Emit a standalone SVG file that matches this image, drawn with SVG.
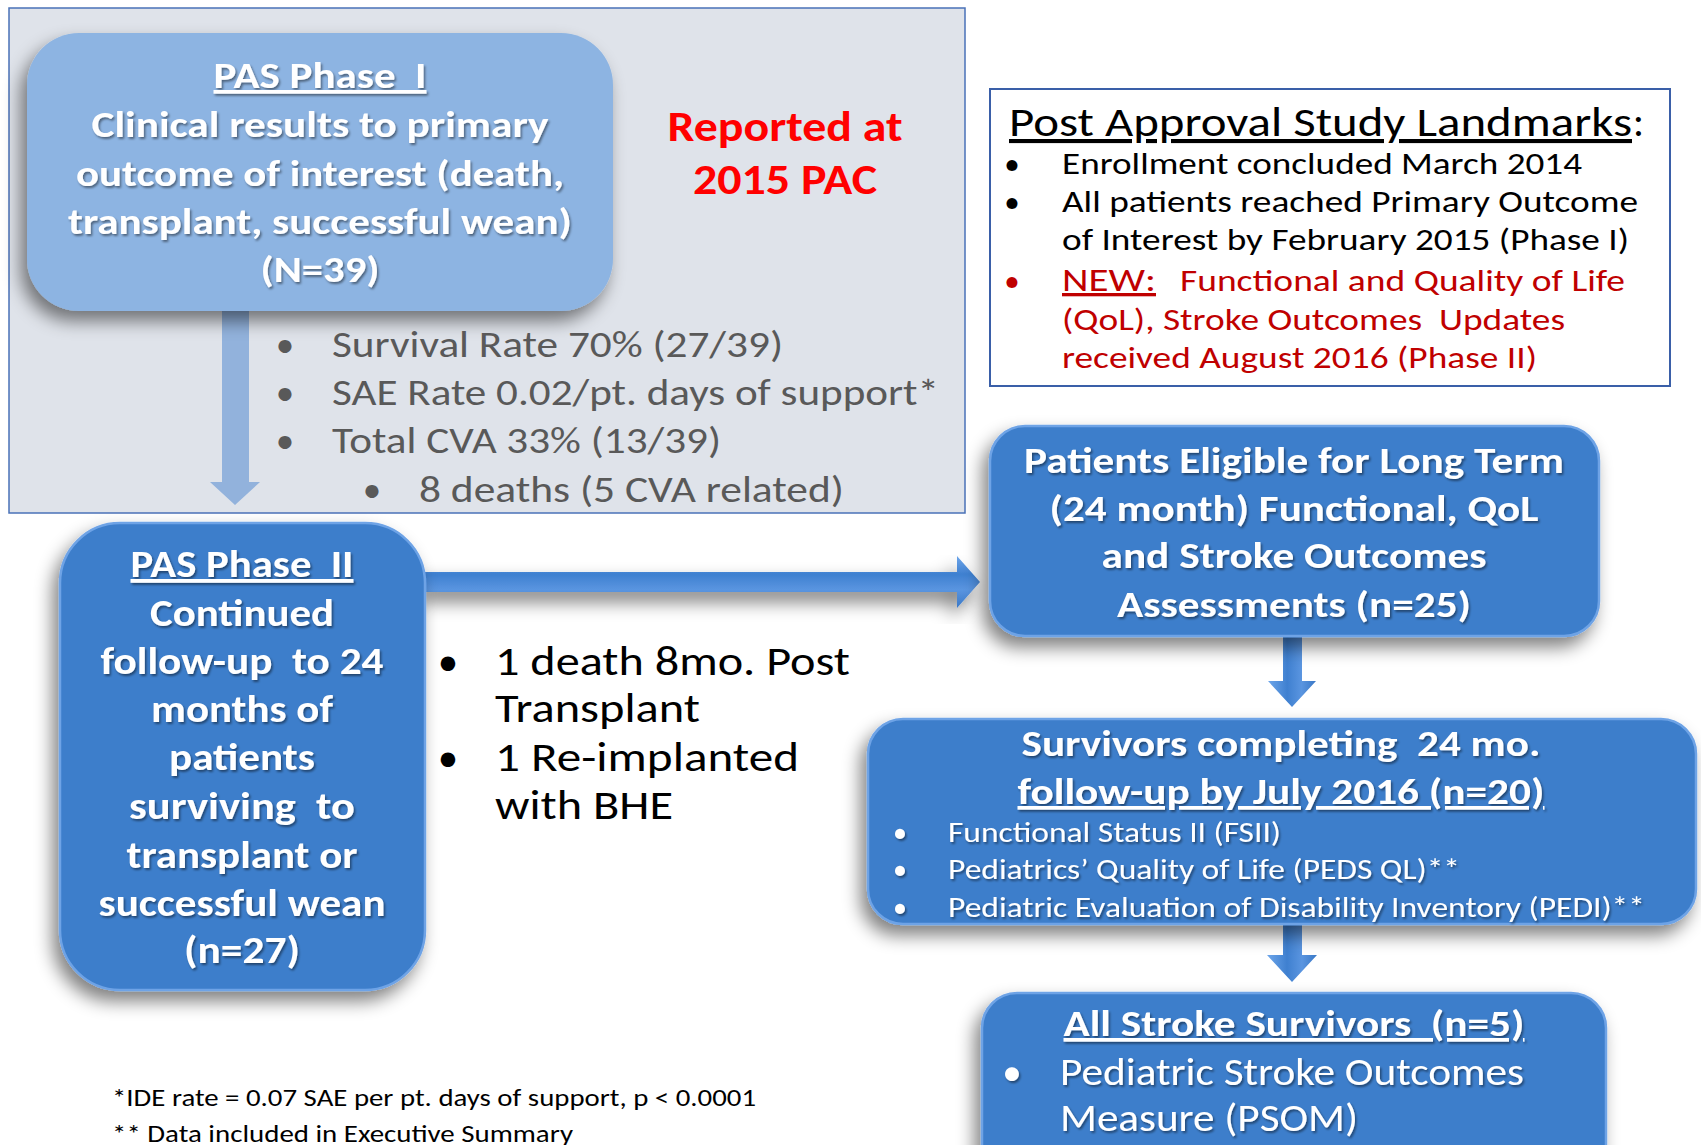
<svg xmlns="http://www.w3.org/2000/svg" width="1701" height="1145" viewBox="0 0 1701 1145">
  <style>
    text { font-family: Carlito, Lato, "Liberation Sans", sans-serif; }
    .wt { fill: #ffffff; font-weight: bold; text-anchor: middle; filter: url(#txtShadow); }
    .grey { fill: #595959; font-size: 37px; }
    .blk { fill: #000000; }
    .red { fill: #c00000; }
    .wb { fill: #ffffff; filter: url(#txtShadow); }
    .mid { text-anchor: middle; }
    .ul { text-decoration: underline; }
    .blue { fill: #3d7ecb; stroke: #6ea3e6; stroke-width: 2.5; filter: url(#boxShadow); }
  </style>
  <defs>
    <filter id="boxShadow" x="-20%" y="-20%" width="140%" height="150%">
      <feGaussianBlur in="SourceAlpha" stdDeviation="9"/>
      <feOffset dx="-6" dy="10" result="b"/>
      <feComponentTransfer><feFuncA type="linear" slope="0.5"/></feComponentTransfer>
      <feMerge><feMergeNode/><feMergeNode in="SourceGraphic"/></feMerge>
    </filter>
    <filter id="txtShadow" x="-5%" y="-20%" width="110%" height="150%">
      <feDropShadow dx="1.5" dy="2" stdDeviation="1" flood-color="#000000" flood-opacity="0.45"/>
    </filter>
    <linearGradient id="arrowH" x1="0" y1="0" x2="0" y2="1">
      <stop offset="0" stop-color="#6ea6ea"/>
      <stop offset="0.35" stop-color="#3f80d0"/>
      <stop offset="0.65" stop-color="#5a95e0"/>
      <stop offset="1" stop-color="#3a78c6"/>
    </linearGradient>
    <linearGradient id="arrowV" x1="0" y1="0" x2="1" y2="0">
      <stop offset="0" stop-color="#6ea6ea"/>
      <stop offset="0.4" stop-color="#3f80d0"/>
      <stop offset="0.7" stop-color="#5a95e0"/>
      <stop offset="1" stop-color="#3a78c6"/>
    </linearGradient>
  </defs>

  <rect width="1701" height="1145" fill="#ffffff"/>

  <!-- Phase I panel background -->
  <g id="phase1-panel">
    <rect x="9" y="8" width="956" height="505" fill="#dfe3ea" stroke="#4a72b8" stroke-width="1.5"/>
  </g>

  <!-- Connectors -->
  <g id="connectors">
    <polygon points="222,311 249,311 249,482 260,482 235,505 210,482 222,482" fill="#92b2dc"/>
    <polygon points="425,572 957,572 957,556 980,582 957,608 957,592 425,592" fill="url(#arrowH)" filter="url(#boxShadow)"/>
    <polygon points="1283,636 1302,636 1302,681 1316,681 1292,707 1268,681 1283,681" fill="url(#arrowV)"/>
    <polygon points="1283,924 1302,924 1302,955 1317,955 1292,982 1267,955 1283,955" fill="url(#arrowV)"/>
  </g>

  <!-- PAS Phase I -->
  <g id="phase1">
    <rect x="27" y="33" width="586" height="278" rx="52" fill="#8db4e2" filter="url(#boxShadow)"/>
    <g font-size="37">
      <text class="wt ul" x="320" y="88" textLength="213" lengthAdjust="spacingAndGlyphs" xml:space="preserve">PAS Phase  I</text>
      <text class="wt" x="320" y="137" textLength="457" lengthAdjust="spacingAndGlyphs">Clinical results to primary</text>
      <text class="wt" x="320" y="186" textLength="488" lengthAdjust="spacingAndGlyphs">outcome of interest (death,</text>
      <text class="wt" x="320" y="234" textLength="504" lengthAdjust="spacingAndGlyphs">transplant, successful wean)</text>
      <text class="wt" x="320" y="282" textLength="119" lengthAdjust="spacingAndGlyphs">(N=39)</text>
    </g>
  </g>

  <g id="reported" font-size="43" font-weight="bold" fill="#ff0000">
    <text class="mid" x="785" y="141" textLength="235" lengthAdjust="spacingAndGlyphs">Reported at</text>
    <text class="mid" x="785" y="194" textLength="184" lengthAdjust="spacingAndGlyphs">2015 PAC</text>
  </g>

  <g id="phase1-results">
    <text class="grey mid" x="285" y="357">•</text>
    <text class="grey" x="332" y="357" textLength="451" lengthAdjust="spacingAndGlyphs">Survival Rate 70% (27/39)</text>
    <text class="grey mid" x="285" y="405">•</text>
    <text class="grey" x="332" y="405" textLength="607" lengthAdjust="spacingAndGlyphs">SAE Rate 0.02/pt. days of support*</text>
    <text class="grey mid" x="285" y="453">•</text>
    <text class="grey" x="332" y="453" textLength="389" lengthAdjust="spacingAndGlyphs">Total CVA 33% (13/39)</text>
    <text class="grey mid" x="372" y="502">•</text>
    <text class="grey" x="419" y="502" textLength="425" lengthAdjust="spacingAndGlyphs">8 deaths (5 CVA related)</text>
  </g>

  <!-- Landmarks box -->
  <g id="landmarks">
    <rect x="990" y="89" width="680" height="297" fill="#ffffff" stroke="#3a5fa8" stroke-width="2"/>
    <text class="blk ul" x="1009" y="136" font-size="41" textLength="623" lengthAdjust="spacingAndGlyphs">Post Approval Study Landmarks</text>
    <text class="blk" x="1633" y="136" font-size="41">:</text>
    <g font-size="31">
      <text class="blk mid" x="1012" y="174">•</text>
      <text class="blk" x="1062" y="174" textLength="520" lengthAdjust="spacingAndGlyphs">Enrollment concluded March 2014</text>
      <text class="blk mid" x="1012" y="212">•</text>
      <text class="blk" x="1062" y="212" textLength="576" lengthAdjust="spacingAndGlyphs">All patients reached Primary Outcome</text>
      <text class="blk" x="1062" y="250" textLength="567" lengthAdjust="spacingAndGlyphs">of Interest by February 2015 (Phase I)</text>
      <text class="red mid" x="1012" y="291">•</text>
      <text class="red ul" x="1062" y="291" font-size="33" textLength="94" lengthAdjust="spacingAndGlyphs">NEW:</text>
      <text class="red" x="1180" y="291" textLength="445" lengthAdjust="spacingAndGlyphs">Functional and Quality of Life</text>
      <text class="red" x="1062" y="330" textLength="503" lengthAdjust="spacingAndGlyphs" xml:space="preserve">(QoL), Stroke Outcomes  Updates</text>
      <text class="red" x="1062" y="368" textLength="475" lengthAdjust="spacingAndGlyphs">received August 2016 (Phase II)</text>
    </g>
  </g>

  <!-- PAS Phase II -->
  <g id="phase2">
    <rect class="blue" x="60" y="523" width="365" height="467" rx="60"/>
    <g font-size="38">
      <text class="wt ul" x="242" y="577" textLength="223" lengthAdjust="spacingAndGlyphs" xml:space="preserve">PAS Phase  II</text>
      <text class="wt" x="242" y="626" textLength="184" lengthAdjust="spacingAndGlyphs">Continued</text>
      <text class="wt" x="242" y="674" textLength="283" lengthAdjust="spacingAndGlyphs" xml:space="preserve">follow-up  to 24</text>
      <text class="wt" x="242" y="722" textLength="182" lengthAdjust="spacingAndGlyphs">months of</text>
      <text class="wt" x="242" y="770" textLength="146" lengthAdjust="spacingAndGlyphs">patients</text>
      <text class="wt" x="242" y="819" textLength="226" lengthAdjust="spacingAndGlyphs" xml:space="preserve">surviving  to</text>
      <text class="wt" x="242" y="868" textLength="231" lengthAdjust="spacingAndGlyphs">transplant or</text>
      <text class="wt" x="242" y="916" textLength="287" lengthAdjust="spacingAndGlyphs">successful wean</text>
      <text class="wt" x="242" y="963" textLength="116" lengthAdjust="spacingAndGlyphs">(n=27)</text>
    </g>
  </g>

  <g id="phase2-notes" font-size="41">
    <text class="blk mid" x="448" y="675">•</text>
    <text class="blk" x="495" y="675" textLength="355" lengthAdjust="spacingAndGlyphs">1 death 8mo. Post</text>
    <text class="blk" x="495" y="722" textLength="205" lengthAdjust="spacingAndGlyphs">Transplant</text>
    <text class="blk mid" x="448" y="771">•</text>
    <text class="blk" x="495" y="771" textLength="304" lengthAdjust="spacingAndGlyphs">1 Re-implanted</text>
    <text class="blk" x="495" y="819" textLength="178" lengthAdjust="spacingAndGlyphs">with BHE</text>
  </g>

  <!-- Eligible patients -->
  <g id="eligible">
    <rect class="blue" x="990" y="426" width="609" height="210" rx="35"/>
    <g font-size="37">
      <text class="wt" x="1294" y="473" textLength="540" lengthAdjust="spacingAndGlyphs">Patients Eligible for Long Term</text>
      <text class="wt" x="1294" y="521" textLength="489" lengthAdjust="spacingAndGlyphs">(24 month) Functional, QoL</text>
      <text class="wt" x="1294" y="568" textLength="385" lengthAdjust="spacingAndGlyphs">and Stroke Outcomes</text>
      <text class="wt" x="1294" y="617" textLength="354" lengthAdjust="spacingAndGlyphs">Assessments (n=25)</text>
    </g>
  </g>

  <!-- Survivors completing follow-up -->
  <g id="survivors">
    <rect class="blue" x="868" y="719" width="828" height="205" rx="35"/>
    <g font-size="37">
      <text class="wt" x="1281" y="756" textLength="519" lengthAdjust="spacingAndGlyphs" xml:space="preserve">Survivors completing  24 mo.</text>
      <text class="wt ul" x="1281" y="804" textLength="527" lengthAdjust="spacingAndGlyphs">follow-up by July 2016 (n=20)</text>
    </g>
    <g font-size="28">
      <text class="wb mid" x="900" y="842">•</text>
      <text class="wb" x="948" y="842" textLength="333" lengthAdjust="spacingAndGlyphs">Functional Status II (FSII)</text>
      <text class="wb mid" x="900" y="879">•</text>
      <text class="wb" x="948" y="879" textLength="512" lengthAdjust="spacingAndGlyphs">Pediatrics’ Quality of Life (PEDS QL)**</text>
      <text class="wb mid" x="900" y="917">•</text>
      <text class="wb" x="948" y="917" textLength="697" lengthAdjust="spacingAndGlyphs">Pediatric Evaluation of Disability Inventory (PEDI)**</text>
    </g>
  </g>

  <!-- Stroke survivors -->
  <g id="stroke">
    <rect class="blue" x="982" y="993" width="624" height="200" rx="35"/>
    <text class="wt ul" x="1294" y="1036" font-size="37" textLength="461" lengthAdjust="spacingAndGlyphs" xml:space="preserve">All Stroke Survivors  (n=5)</text>
    <g font-size="39">
      <text class="wb mid" x="1012" y="1085">•</text>
      <text class="wb" x="1060" y="1085" textLength="464" lengthAdjust="spacingAndGlyphs">Pediatric Stroke Outcomes</text>
      <text class="wb" x="1060" y="1131" textLength="298" lengthAdjust="spacingAndGlyphs">Measure (PSOM)</text>
    </g>
  </g>

  <!-- Footnotes -->
  <g id="footnotes" font-size="25">
    <text class="blk" x="112" y="1106" textLength="644" lengthAdjust="spacingAndGlyphs">*IDE rate = 0.07 SAE per pt. days of support, p &lt; 0.0001</text>
    <text class="blk" x="112" y="1142" textLength="461" lengthAdjust="spacingAndGlyphs">** Data included in Executive Summary</text>
  </g>
</svg>
